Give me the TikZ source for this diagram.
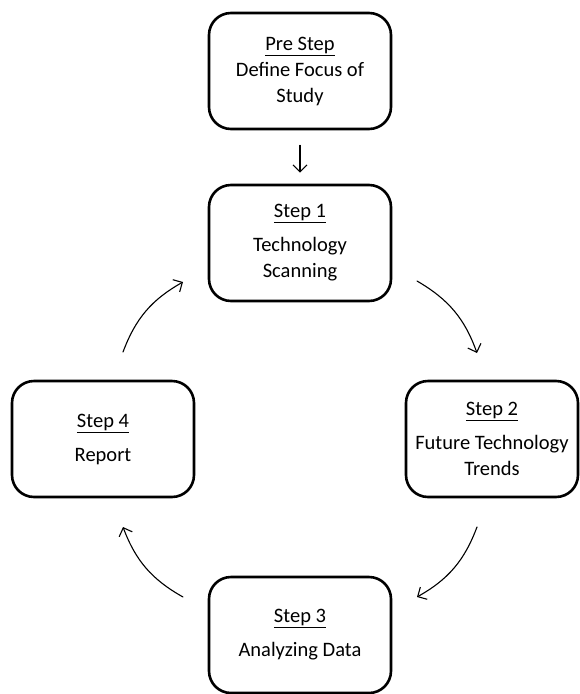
\documentclass[tikz,border=0pt]{standalone}
\usepackage{fontspec}
\setmainfont{Carlito}
\usetikzlibrary{arrows.meta}
\begin{document}
\begin{tikzpicture}[x=1pt,y=-1pt,line cap=round,line join=round,
	stepbox/.style={draw,line width=2.6pt,rounded corners=22pt,minimum width=182pt,minimum height=116pt,inner sep=0pt,align=center,font=\fontsize{20.5}{26}\selectfont},
	flow/.style={line width=1.1pt,-{Straight Barb[length=7pt,width=14pt]}}]
	\useasboundingbox (0,0) rectangle (579,694);
	%Các bước
	\node[stepbox] (pre) at (300,71) {\underline{Pre Step}\\Define Focus of\\Study};
	\node[stepbox] (s1) at (300,243) {\underline{Step 1}\\[8pt]Technology\\Scanning};
	\node[stepbox,minimum width=172pt] (s2) at (492,439) {\underline{Step 2}\\[8pt]Future Technology\\Trends};
	\node[stepbox] (s3) at (300,635) {\underline{Step 3}\\[8pt]Analyzing Data};
	\node[stepbox] (s4) at (103,439) {\underline{Step 4}\\[8pt]Report};
	%Mũi tên
	\draw[flow,shorten <=15pt,shorten >=11pt] (pre) -- (s1);
	\coordinate (k1) at (417,281); \coordinate (k2) at (477,353);
	\coordinate (k3) at (477,527); \coordinate (k4) at (417,597);
	\coordinate (k5) at (183,597); \coordinate (k6) at (123,527);
	\coordinate (k7) at (123,352); \coordinate (k8) at (183,282);
	\draw[flow] (k1) to[bend left=20] (k2);
	\draw[flow] (k3) to[bend left=20] (k4);
	\draw[flow] (k5) to[bend left=20] (k6);
	\draw[flow] (k7) to[bend left=20] (k8);
\end{tikzpicture}
\end{document}
